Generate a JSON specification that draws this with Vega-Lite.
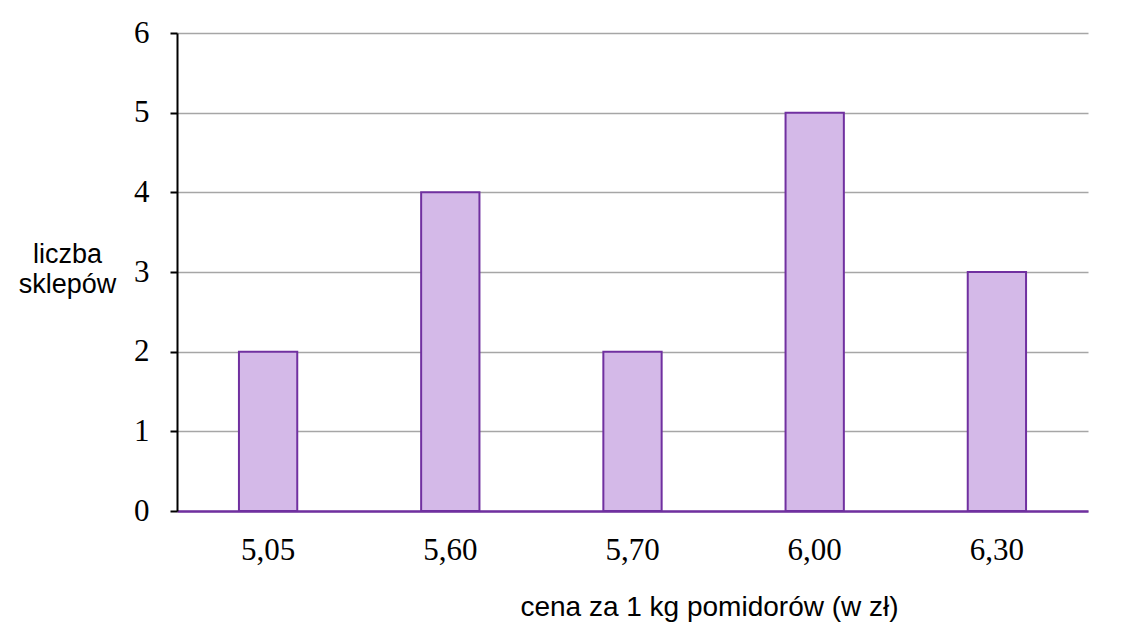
{
  "$schema": "https://vega.github.io/schema/vega-lite/v6.json",
  "width": 911,
  "height": 478,
  "autosize": "none",
  "padding": {"left": 177, "top": 33, "right": 52, "bottom": 131},
  "background": "white",
  "data": {
    "values": [
      {"cena": "5,05", "liczba": 2},
      {"cena": "5,60", "liczba": 4},
      {"cena": "5,70", "liczba": 2},
      {"cena": "6,00", "liczba": 5},
      {"cena": "6,30", "liczba": 3}
    ]
  },
  "config": {"view": {"stroke": null}},
  "mark": {"type": "bar", "fill": "#d4b9e8", "stroke": "#7030a0", "strokeWidth": 2},
  "encoding": {
    "x": {
      "field": "cena",
      "type": "ordinal",
      "sort": null,
      "scale": {"paddingInner": 0.68, "paddingOuter": 0.34},
      "axis": {
        "title": "cena za 1 kg pomidorów (w zł)",
        "titleFont": "Liberation Sans",
        "titleFontSize": 28,
        "titleFontWeight": "normal",
        "titleColor": "black",
        "titleX": 532,
        "titleY": 96,
        "titleAlign": "center",
        "titleBaseline": "middle",
        "labelAngle": 0,
        "labelFont": "Liberation Serif",
        "labelFontSize": 31,
        "labelColor": "black",
        "labelBaseline": "alphabetic",
        "labelPadding": 48,
        "ticks": false,
        "tickSize": 0,
        "domainColor": "#7030a0",
        "domainWidth": 2.5,
        "grid": false
      }
    },
    "y": {
      "field": "liczba",
      "type": "quantitative",
      "scale": {"domain": [0, 6], "nice": false},
      "axis": {
        "title": ["liczba", "sklepów"],
        "titleFont": "Liberation Sans",
        "titleFontSize": 27,
        "titleFontWeight": "normal",
        "titleColor": "black",
        "titleAngle": 0,
        "titleAlign": "center",
        "titleBaseline": "middle",
        "titleLineHeight": 30,
        "titleX": -110,
        "titleY": 221,
        "values": [0, 1, 2, 3, 4, 5, 6],
        "labelFont": "Liberation Serif",
        "labelFontSize": 31,
        "labelColor": "black",
        "labelPadding": 21,
        "tickColor": "black",
        "tickWidth": 2,
        "tickSize": 7,
        "domainColor": "black",
        "domainWidth": 2,
        "gridColor": "#a6a6a6",
        "gridWidth": 1.5
      }
    }
  }
}
